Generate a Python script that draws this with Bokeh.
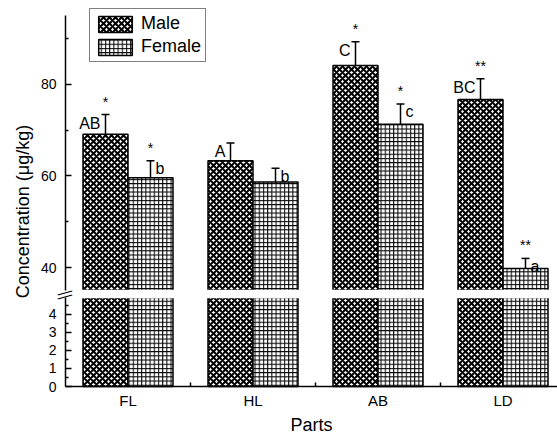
import numpy as np
from bokeh.plotting import figure
from bokeh.models import (ColumnDataSource, FixedTicker, Range1d, Whisker, Label, TeeHead,
                          LinearAxis)
from bokeh.embed import file_html
from bokeh.resources import INLINE
from bokeh.core.properties import value

# ---- data ----
categories = ["FL", "HL", "AB", "LD"]
male = [69.1, 63.3, 84.1, 76.7]
male_err = [4.3, 3.9, 5.2, 4.5]
female = [59.6, 58.7, 71.3, 39.8]
female_err = [3.7, 3.0, 4.4, 2.2]
male_letters = ["AB", "A", "C", "BC"]
female_letters = ["b", "b", "c", "a"]
male_stars = ["*", "", "*", "**"]
female_stars = ["*", "", "*", "**"]
upper_ticks = [40, 60, 80]
upper_minor = [50, 70, 90]
lower_ticks = [0, 1, 2, 3, 4]
lower_minor = [0.5, 1.5, 2.5, 3.5, 4.5]
upper_span = (35, 95)
lower_span = (0, 4.94)

# ---- layout constants (pixels) ----
WIDTH, HEIGHT = 557, 437
AXIS_Y = 386           # x axis line
AX_X = 65              # y-axis position
UP_TOP, UP_BOT, LOW_TOP = 15, 290, 297
PX_PER_CAT = 125
LW = 1.5

FONT = "Liberation Sans"
OFF = 0.18
W = 0.36

k_u = (UP_BOT - UP_TOP) / (upper_span[1] - upper_span[0])
k_l = (AXIS_Y - LOW_TOP) / (lower_span[1] - lower_span[0])
up_range = Range1d(upper_span[0] - (HEIGHT - UP_BOT) / k_u, upper_span[1] + UP_TOP / k_u)
low_range = Range1d(lower_span[0] - (HEIGHT - AXIS_Y) / k_l, lower_span[0] + AXIS_Y / k_l)
x0 = 0.5 - AX_X / PX_PER_CAT
x_range = Range1d(x0, x0 + WIDTH / PX_PER_CAT)

xpos = np.arange(1, len(categories) + 1)
m = np.array(male); me = np.array(male_err)
f = np.array(female); fe = np.array(female_err)
src = ColumnDataSource(dict(
    xm=xpos - OFF, xf=xpos + OFF, male=m, female=f,
    male_low=np.minimum(m, lower_span[1]), female_low=np.minimum(f, lower_span[1]),
    mlo=m - me, mhi=m + me, flo=f - fe, fhi=f + fe,
    ml=male_letters, fl=female_letters, ms=male_stars, fs=female_stars))

male_style = dict(fill_color="white", line_color="black", line_width=LW,
                  hatch_pattern="diagonal_cross", hatch_scale=6, hatch_weight=2,
                  hatch_color="black")
female_style = dict(fill_color="white", line_color="black", line_width=LW,
                    hatch_pattern="cross", hatch_scale=4.2, hatch_weight=1,
                    hatch_color="black")


def style_axis(ax, fs):
    ax.axis_line_width = LW
    ax.axis_line_color = "black"
    ax.major_tick_line_width = LW
    ax.minor_tick_line_width = LW
    ax.major_tick_line_color = "black"
    ax.minor_tick_line_color = "black"
    ax.major_label_text_font = FONT
    ax.major_label_text_font_size = fs
    ax.major_label_text_color = "black"


p = figure(width=WIDTH, height=HEIGHT, x_range=x_range, y_range=up_range,
           output_backend="svg", toolbar_location=None, y_axis_location=None,
           x_axis_location=None,
           min_border_left=0, min_border_right=0, min_border_top=0, min_border_bottom=0)
p.extra_y_ranges = {"low": low_range}
p.grid.visible = False
p.outline_line_color = None
p.background_fill_color = "white"
p.border_fill_color = "white"

# lower segment bars (lower scale)
p.vbar(x="xm", top="male_low", bottom=lower_span[0], width=W, source=src, y_range_name="low",
       **male_style)
p.vbar(x="xf", top="female_low", bottom=lower_span[0], width=W, source=src, y_range_name="low",
       **female_style)
# upper segment bars (upper scale)
p.vbar(x="xm", top="male", bottom=upper_span[0], width=W, source=src, legend_label="Male",
       **male_style)
p.vbar(x="xf", top="female", bottom=upper_span[0], width=W, source=src, legend_label="Female",
       **female_style)

# white gap of the broken axis (hides the cut edges of the bars)
p.quad(left=[x_range.start], right=[x_range.end],
       bottom=[(AXIS_Y - LOW_TOP - LW / 2) / k_l], top=[(AXIS_Y - UP_BOT + LW / 2) / k_l],
       y_range_name="low", fill_color="white", line_color=None)

for base, lo, hi in (("xm", "mlo", "mhi"), ("xf", "flo", "fhi")):
    p.add_layout(Whisker(source=src, base=base, lower=lo, upper=hi,
                         line_color="black", line_width=LW,
                         upper_head=TeeHead(size=8, line_width=LW, line_color="black"),
                         lower_head=TeeHead(size=8, line_width=LW, line_color="black")))

p.text(x="xm", y="mhi", text="ml", source=src, text_align="right", text_baseline="middle",
       x_offset=-5, y_offset=9, text_font=value(FONT), text_font_size="16px", text_color="black")
p.text(x="xf", y="fhi", text="fl", source=src, text_align="left", text_baseline="middle",
       x_offset=5, y_offset=8, text_font=value(FONT), text_font_size="16px", text_color="black")
p.text(x="xm", y="mhi", text="ms", source=src, text_align="center", text_baseline="bottom",
       y_offset=-5, text_font=value(FONT), text_font_size="14px", text_color="black")
p.text(x="xf", y="fhi", text="fs", source=src, text_align="center", text_baseline="bottom",
       y_offset=-5, text_font=value(FONT), text_font_size="14px", text_color="black")

# upper y axis
ya = LinearAxis(fixed_location=0.5, bounds=upper_span,
                ticker=FixedTicker(ticks=upper_ticks, minor_ticks=upper_minor))
ya.major_tick_in = 6
ya.major_tick_out = 0
ya.minor_tick_in = 3
ya.minor_tick_out = 0
ya.major_label_standoff = 9
style_axis(ya, "14px")
p.add_layout(ya, "left")

# lower y axis
ly = LinearAxis(fixed_location=0.5, bounds=lower_span, y_range_name="low",
                ticker=FixedTicker(ticks=lower_ticks, minor_ticks=lower_minor))
ly.major_tick_in = 6
ly.major_tick_out = 0
ly.minor_tick_in = 3
ly.minor_tick_out = 0
ly.major_label_standoff = 9
style_axis(ly, "14px")
p.add_layout(ly, "left")

# x axis
lx = LinearAxis(fixed_location=lower_span[0], y_range_name="low", bounds=(0.5, x_range.end),
                ticker=FixedTicker(ticks=list(xpos), minor_ticks=list(xpos[:-1] + 0.5)))
lx.major_label_overrides = {int(i + 1): c for i, c in enumerate(categories)}
lx.major_tick_in = 0
lx.major_tick_out = 0
lx.minor_tick_in = 4
lx.minor_tick_out = 0
lx.major_label_standoff = 5
lx.axis_label = "Parts"
lx.axis_label_standoff = 3
lx.axis_label_text_font = FONT
lx.axis_label_text_font_size = "18px"
lx.axis_label_text_font_style = "normal"
lx.axis_label_text_color = "black"
style_axis(lx, "15px")
p.add_layout(lx, "below")

# legend
lg = p.legend[0]
lg.location = (89, HEIGHT - 62)
lg.glyph_width = 42
lg.glyph_height = 20
lg.label_height = 20
lg.label_standoff = 5
lg.padding = 4
lg.spacing = 2
lg.margin = 0
lg.label_text_font = FONT
lg.label_text_font_size = "18px"
lg.label_text_color = "black"
lg.border_line_color = "black"
lg.border_line_width = 1
lg.background_fill_color = "white"
lg.background_fill_alpha = 1

# y axis title spanning both segments
p.add_layout(Label(x=x0 + 22 / PX_PER_CAT, y=up_range.end - 211 / k_u,
                   text="Concentration (\u03bcg/kg)", angle=np.pi / 2,
                   text_align="center", text_baseline="middle", text_font=FONT,
                   text_font_size="18px", text_color="black"))
# axis break marks
for ypx in (291, 295):
    p.add_layout(Label(x=x0 + 64 / PX_PER_CAT, y=up_range.end - ypx / k_u, text="\u2014",
                       angle=0.28, text_align="center", text_baseline="middle",
                       text_font=FONT, text_font_size="15px", text_color="black"))

open("out.html", "w").write(file_html(p, INLINE))
